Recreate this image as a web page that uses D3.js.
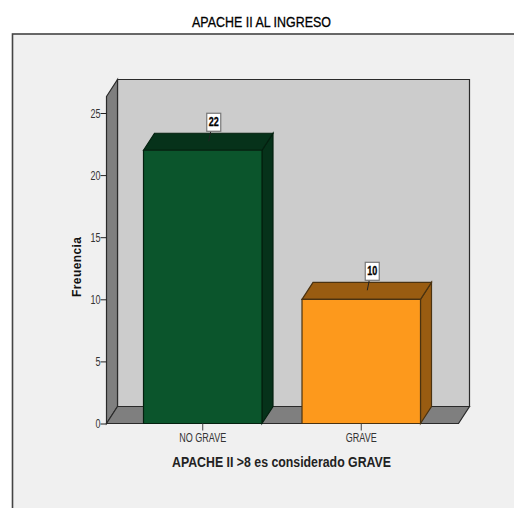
<!DOCTYPE html>
<html>
<head>
<meta charset="utf-8">
<script src="https://cdn.jsdelivr.net/npm/d3@7/dist/d3.min.js"></script>
<style>
html,body{margin:0;padding:0;background:#fff}
svg{display:block}
text{font-family:"Liberation Sans",Arial,sans-serif}
</style>
</head>
<body>
<svg id="chart" width="514" height="508"></svg>
<script>
const categories = ["NO GRAVE", "GRAVE"];
const counts = [22, 10];
const barFront = ["#0b552c", "#fd991c"];
const barShade = ["#06321a", "#995c11"];
const barStroke = ["#04200f", "#4a3210"];
const yTicks = [0, 5, 10, 15, 20, 25];
const chartTitle = "APACHE II AL INGRESO";
const xTitle = "APACHE II >8 es considerado GRAVE";
const yTitle = "Freuencia";

const svg = d3.select("#chart");
const W = 514, H = 508;
const dx = 11, dy = -17;                 // depth offset of the 3D box

const x = d3.scaleBand().domain(categories).range([106, 458]).paddingInner(0.2524).paddingOuter(0.2366);
const y = d3.scaleLinear().domain([0, 25]).range([423.5, 113]);
const plotTop = 96.5;

const poly = (pts, fill, stroke, sw = 1.2) => svg.append("polygon")
  .attr("points", pts.map(p => p.join(",")).join(" "))
  .attr("fill", fill).attr("stroke", stroke).attr("stroke-width", sw)
  .attr("stroke-linejoin", "miter");

// outer frame, open towards the right and bottom edges of the page
svg.append("rect").attr("x", 12.5).attr("y", 34).attr("width", W).attr("height", H)
  .attr("fill", "#f0f0f0").attr("stroke", "#444").attr("stroke-width", 1.6);

const x0 = 106.5, x1 = 458.5, y0 = y(0);

// back wall, side wall and floor
poly([[x0 + dx, plotTop + dy], [x1 + dx, plotTop + dy], [x1 + dx, y0 + dy], [x0 + dx, y0 + dy]], "#cccccc", "#2a2a2a");
poly([[x0, plotTop], [x0 + dx, plotTop + dy], [x0 + dx, y0 + dy], [x0, y0]], "#7f7f7f", "#2a2a2a");
poly([[x0, y0], [x0 + dx, y0 + dy], [x1 + dx, y0 + dy], [x1, y0]], "#7f7f7f", "#2a2a2a");

// bars: side, top, front
categories.forEach((c, i) => {
  const l = x(c), r = l + x.bandwidth(), t = y(counts[i]);
  poly([[r, y0], [r + dx, y0 + dy], [r + dx, t + dy], [r, t]], barShade[i], barStroke[i]);
  poly([[l, t], [l + dx, t + dy], [r + dx, t + dy], [r, t]], barShade[i], barStroke[i]);
  poly([[l, t], [r, t], [r, y0], [l, y0]], barFront[i], barStroke[i]);
});

// axes
const yAxis = d3.axisLeft(y).tickValues(yTicks).tickSize(6).tickPadding(0);
const yG = svg.append("g").attr("transform", `translate(${x0},0)`).call(yAxis);
yG.select(".domain").remove();
yG.selectAll("line").attr("stroke", "#222");
yG.selectAll("text").attr("font-size", 12).attr("fill", "#333").attr("y", 0.5)
  .attr("textLength", d => d < 10 ? 5 : 10).attr("lengthAdjust", "spacingAndGlyphs");

const xAxis = d3.axisBottom(x).tickSize(7).tickPadding(2.6);
const xG = svg.append("g").attr("transform", `translate(0,${y0})`).call(xAxis);
xG.select(".domain").remove();
xG.selectAll("line").attr("stroke", "#444");
xG.selectAll("text").attr("font-size", 12).attr("fill", "#333")
  .attr("textLength", d => d === "NO GRAVE" ? 47 : 31).attr("lengthAdjust", "spacingAndGlyphs");

// value callouts
categories.forEach((c, i) => {
  const cx = x(c) + x.bandwidth() / 2 + 11, t = y(counts[i]) + dy;
  svg.append("line").attr("x1", cx - 5).attr("y1", t + 8).attr("x2", cx - 3).attr("y2", t - 2)
    .attr("stroke", "#222");
  svg.append("rect").attr("x", cx - 7).attr("y", t - 20).attr("width", 14).attr("height", 18)
    .attr("fill", "#fff").attr("stroke", "#777").attr("stroke-width", 1.2);
  svg.append("text").attr("x", cx).attr("y", t - 7).attr("text-anchor", "middle")
    .attr("font-size", 12).attr("font-weight", "bold").attr("fill", "#000")
    .attr("stroke", "#000").attr("stroke-width", 0.3)
    .attr("textLength", 10).attr("lengthAdjust", "spacingAndGlyphs").text(counts[i]);
});

// titles
svg.append("text").attr("x", 261.5).attr("y", 26.5).attr("text-anchor", "middle")
  .attr("font-size", 15).attr("fill", "#000").attr("stroke", "#000").attr("stroke-width", 0.3)
  .attr("textLength", 139).attr("lengthAdjust", "spacingAndGlyphs").text(chartTitle);
svg.append("text").attr("x", 281.5).attr("y", 467).attr("text-anchor", "middle")
  .attr("font-size", 14).attr("font-weight", "bold").attr("fill", "#222")
  .attr("textLength", 219).attr("lengthAdjust", "spacingAndGlyphs").text(xTitle);
svg.append("text").attr("transform", "translate(81,267) rotate(-90)").attr("text-anchor", "middle")
  .attr("font-size", 12).attr("font-weight", "bold").attr("fill", "#111")
  .attr("textLength", 60).text(yTitle);
</script>
</body>
</html>
